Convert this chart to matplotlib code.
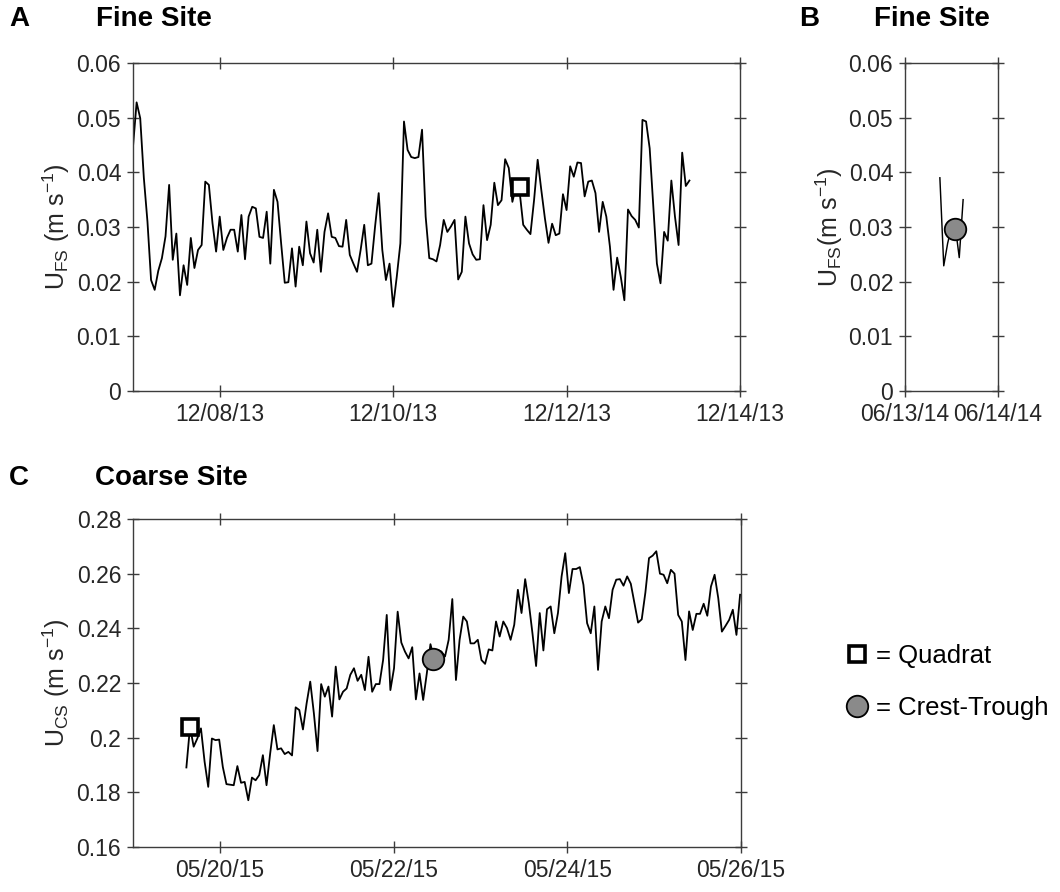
import numpy as np
import pandas as pd
import matplotlib
matplotlib.use("Agg")
import matplotlib.pyplot as plt
import matplotlib.dates as mdates
from matplotlib.lines import Line2D

plt.rcParams['font.family'] = ['Liberation Sans', 'DejaVu Sans']
plt.rcParams['mathtext.fontset'] = 'custom'
plt.rcParams['mathtext.rm'] = 'Liberation Sans'
plt.rcParams['mathtext.it'] = 'Liberation Sans:italic'

# ---- data ----
# Panel A: fine site, Dec 2013, hourly samples
fine_a_start = '2013-12-07 00:00'
fine_a_end = '2013-12-13 10:00'
fine_a_u = [
    0.0447, 0.0528, 0.0499, 0.039, 0.031, 0.0203, 0.0185, 0.022, 0.0243, 0.0283,
    0.0377, 0.024, 0.0288, 0.0175, 0.023, 0.0194, 0.028, 0.0225, 0.0258, 0.0267,
    0.0383, 0.0377, 0.0307, 0.0255, 0.0319, 0.0258, 0.028, 0.0295, 0.0295, 0.0255,
    0.0322, 0.0241, 0.0319, 0.0337, 0.0334, 0.0282, 0.028, 0.0328, 0.0233, 0.0368,
    0.0346, 0.027, 0.0198, 0.0199, 0.0261, 0.0191, 0.0264, 0.023, 0.031, 0.0252,
    0.0235, 0.0295, 0.0218, 0.0291, 0.0325, 0.0282, 0.028, 0.0265, 0.0264, 0.0313,
    0.0249, 0.0233, 0.0218, 0.0258, 0.0304, 0.023, 0.0233, 0.0301, 0.0362, 0.0258,
    0.0203, 0.0233, 0.0154, 0.0209, 0.027, 0.0493, 0.0441, 0.0428, 0.0426, 0.0428,
    0.0478, 0.0319, 0.0243, 0.0241, 0.0237,
    0.0267, 0.0313, 0.0291, 0.0301, 0.0313, 0.0204, 0.0218, 0.0319, 0.027, 0.025,
    0.024, 0.0241, 0.034, 0.0276, 0.0304, 0.0381, 0.034, 0.0349, 0.0424, 0.0408,
    0.0346, 0.0374, 0.0365, 0.0304, 0.0295, 0.0287, 0.0349, 0.0423, 0.0368, 0.0316,
    0.0271, 0.0306, 0.0285, 0.0288, 0.036, 0.0331, 0.0411, 0.0392, 0.0418, 0.0417,
    0.0356, 0.0383, 0.0385, 0.0362, 0.0291, 0.0346, 0.0319, 0.0264, 0.0185, 0.0244,
    0.0209, 0.0166, 0.0332, 0.032, 0.0313, 0.0299, 0.0496, 0.0493, 0.0444, 0.0337,
    0.0233, 0.0197, 0.0291, 0.0275, 0.0385, 0.0319, 0.0267, 0.0436, 0.0375, 0.0385,
]
fine_a_quadrat_time = '2013-12-11 11:00'
fine_a_quadrat_u = 0.0374

# Panel B: fine site, Jun 2014
fine_b_start = '2014-06-13 09:00'
fine_b_end = '2014-06-13 15:00'
fine_b_u = [0.039, 0.0229, 0.027, 0.030, 0.030, 0.0244, 0.035]
fine_b_crest_time = '2014-06-13 13:00'
fine_b_crest_u = 0.0297

# Panel C: coarse site, May 2015
coarse_start = '2015-05-19 14:45'
coarse_end = '2015-05-25 23:45'
coarse_u = [
    0.1891, 0.204, 0.1967, 0.1997, 0.2034, 0.1912, 0.182, 0.1997, 0.1991, 0.1993,
    0.1893, 0.183, 0.1828, 0.1826, 0.1896, 0.1835, 0.1838, 0.1771, 0.1854, 0.1844,
    0.1863, 0.1936, 0.1826, 0.1942, 0.2046, 0.1957, 0.1961, 0.194, 0.1948, 0.1935,
    0.2111, 0.2101, 0.203, 0.2125, 0.2205, 0.2089, 0.1951, 0.2196, 0.215, 0.2187,
    0.2077, 0.226, 0.214, 0.2168, 0.218, 0.223, 0.2254, 0.2208, 0.223, 0.2174,
    0.2296, 0.2168, 0.2196, 0.2196, 0.2284, 0.2449, 0.2174, 0.2254, 0.2461, 0.2348,
    0.2315, 0.229, 0.2331, 0.214, 0.2235, 0.2138, 0.2235, 0.2342,
    0.2288, 0.2321, 0.2315, 0.2297, 0.2358, 0.2507, 0.2211, 0.2358, 0.2443, 0.2425,
    0.2345, 0.2345, 0.2358, 0.2284, 0.227, 0.2323, 0.2319, 0.2425, 0.237, 0.2425,
    0.2401, 0.2358, 0.2413, 0.2541, 0.2456, 0.258, 0.2492, 0.2382, 0.2262, 0.2456,
    0.2319, 0.247, 0.248, 0.2382, 0.2456, 0.259, 0.2675, 0.2529, 0.2617, 0.2617,
    0.2624, 0.2559, 0.2419, 0.2382, 0.248, 0.2248, 0.2425, 0.248, 0.2437, 0.2541,
    0.2578, 0.258, 0.2556, 0.259, 0.2563, 0.2492, 0.2421, 0.2433, 0.2531, 0.2657,
    0.2666, 0.2682, 0.26, 0.2596, 0.2565, 0.2614, 0.26, 0.2449, 0.2425, 0.2284,
    0.2462, 0.2394, 0.2453, 0.2453, 0.249, 0.2446, 0.2553, 0.2596, 0.2511, 0.2388,
    0.2409, 0.2431, 0.2468, 0.2376, 0.2523,
]
coarse_quadrat_time = '2015-05-19 15:45'
coarse_quadrat_u = 0.204
coarse_crest_time = '2015-05-22 11:00'
coarse_crest_u = 0.2288

# axis ranges / ticks
fine_a_xlim = ('2013-12-07', '2013-12-14')
fine_a_xticks = ['2013-12-08', '2013-12-10', '2013-12-12', '2013-12-14']
fine_b_xlim = ('2014-06-13', '2014-06-14')
fine_b_xticks = ['2014-06-13', '2014-06-14']
coarse_xlim = ('2015-05-19', '2015-05-26')
coarse_xticks = ['2015-05-20', '2015-05-22', '2015-05-24', '2015-05-26']
fine_yticks = [0, 0.01, 0.02, 0.03, 0.04, 0.05, 0.06]
fine_yticklabels = ['0', '0.01', '0.02', '0.03', '0.04', '0.05', '0.06']
coarse_yticks = [0.16, 0.18, 0.20, 0.22, 0.24, 0.26, 0.28]
coarse_yticklabels = ['0.16', '0.18', '0.2', '0.22', '0.24', '0.26', '0.28']

# ---- styling ----
tickfontsize = 16.5
labelfontsize = 18
titlefontsize = 20
axcolor = '#3c3c3c'
textcolor = '#262626'
crestcolor = '#8a8a8a'
linewidth = 1.3


def style_axes(ax):
    for sp in ax.spines.values():
        sp.set_color(axcolor)
        sp.set_linewidth(1.0)
    ax.tick_params(direction='inout', length=9, width=1.0, color=axcolor,
                   top=True, right=True, labelsize=tickfontsize,
                   labelcolor=textcolor, pad=4)
    ax.xaxis.set_major_formatter(mdates.DateFormatter('%m/%d/%y'))


def quadrat(ax, t, u):
    ax.plot(pd.Timestamp(t), u, marker='s', ms=11, mfc='white', mec='black',
            mew=2.6, zorder=5, clip_on=False)


def crest(ax, t, u):
    ax.plot(pd.Timestamp(t), u, marker='o', ms=15.5, mfc=crestcolor,
            mec='black', mew=1.3, zorder=5, clip_on=False)


fig = plt.figure(figsize=(10.6, 8.92), dpi=100)
W, H = 1060.0, 892.0
ax_a = fig.add_axes([133 / W, 1 - 391 / H, 607 / W, 328 / H])
ax_b = fig.add_axes([905 / W, 1 - 391 / H, 93 / W, 328 / H])
ax_c = fig.add_axes([133 / W, 1 - 847 / H, 608 / W, 328 / H])

# panel A
t_a = pd.date_range(fine_a_start, fine_a_end, periods=len(fine_a_u))
ax_a.plot(t_a, fine_a_u, color='black', lw=linewidth)
quadrat(ax_a, fine_a_quadrat_time, fine_a_quadrat_u)
ax_a.set_xlim(pd.Timestamp(fine_a_xlim[0]), pd.Timestamp(fine_a_xlim[1]))
ax_a.set_xticks([pd.Timestamp(d) for d in fine_a_xticks])
ax_a.set_ylim(0, 0.06)
ax_a.set_yticks(fine_yticks)
ax_a.set_yticklabels(fine_yticklabels)
style_axes(ax_a)
ax_a.set_ylabel(r'U$_{\mathrm{FS}}$ (m s$^{\mathrm{-1}}$)', fontsize=labelfontsize, color=textcolor)
ax_a.yaxis.set_label_coords(-0.1, 0.5)

# panel B
t_b = pd.date_range(fine_b_start, fine_b_end, periods=len(fine_b_u))
ax_b.plot(t_b, fine_b_u, color='black', lw=linewidth * 0.8)
crest(ax_b, fine_b_crest_time, fine_b_crest_u)
ax_b.set_xlim(pd.Timestamp(fine_b_xlim[0]), pd.Timestamp(fine_b_xlim[1]))
ax_b.set_xticks([pd.Timestamp(d) for d in fine_b_xticks])
ax_b.set_ylim(0, 0.06)
ax_b.set_yticks(fine_yticks)
ax_b.set_yticklabels(fine_yticklabels)
style_axes(ax_b)
ax_b.set_ylabel(r'U$_{\mathrm{FS}}$(m s$^{\mathrm{-1}}$)', fontsize=labelfontsize, color=textcolor)
ax_b.yaxis.set_label_coords(-0.64, 0.5)

# panel C
t_c = pd.date_range(coarse_start, coarse_end, periods=len(coarse_u))
ax_c.plot(t_c, coarse_u, color='black', lw=linewidth)
quadrat(ax_c, coarse_quadrat_time, coarse_quadrat_u)
crest(ax_c, coarse_crest_time, coarse_crest_u)
ax_c.set_xlim(pd.Timestamp(coarse_xlim[0]), pd.Timestamp(coarse_xlim[1]))
ax_c.set_xticks([pd.Timestamp(d) for d in coarse_xticks])
ax_c.set_ylim(0.16, 0.28)
ax_c.set_yticks(coarse_yticks)
ax_c.set_yticklabels(coarse_yticklabels)
style_axes(ax_c)
ax_c.set_ylabel(r'U$_{\mathrm{CS}}$ (m s$^{\mathrm{-1}}$)', fontsize=labelfontsize, color=textcolor)
ax_c.yaxis.set_label_coords(-0.1, 0.5)

# panel letters and titles
fig.text(9 / W, 1 - 19 / H, 'A', fontsize=titlefontsize, fontweight='bold', va='center')
fig.text(96 / W, 1 - 19 / H, 'Fine Site', fontsize=titlefontsize, fontweight='bold', va='center')
fig.text(799 / W, 1 - 19 / H, 'B', fontsize=titlefontsize, fontweight='bold', va='center')
fig.text(874 / W, 1 - 19 / H, 'Fine Site', fontsize=titlefontsize, fontweight='bold', va='center')
fig.text(9 / W, 1 - 478 / H, 'C', fontsize=titlefontsize, fontweight='bold', va='center')
fig.text(95 / W, 1 - 478 / H, 'Coarse Site', fontsize=titlefontsize, fontweight='bold', va='center')

# legend
handles = [
    Line2D([], [], ls='none', marker='s', ms=11, mfc='white', mec='black', mew=2.6),
    Line2D([], [], ls='none', marker='o', ms=15.5, mfc=crestcolor, mec='black', mew=1.3),
]
fig.legend(handles, ['= Quadrat', '= Crest-Trough'], loc='upper left',
           bbox_to_anchor=(845 / W, 1 - 644 / H), frameon=False,
           fontsize=18.5, handlelength=0.9, handletextpad=0.3, labelspacing=1.1,
           borderpad=0, borderaxespad=0)

fig.savefig('out.png', dpi=100)
